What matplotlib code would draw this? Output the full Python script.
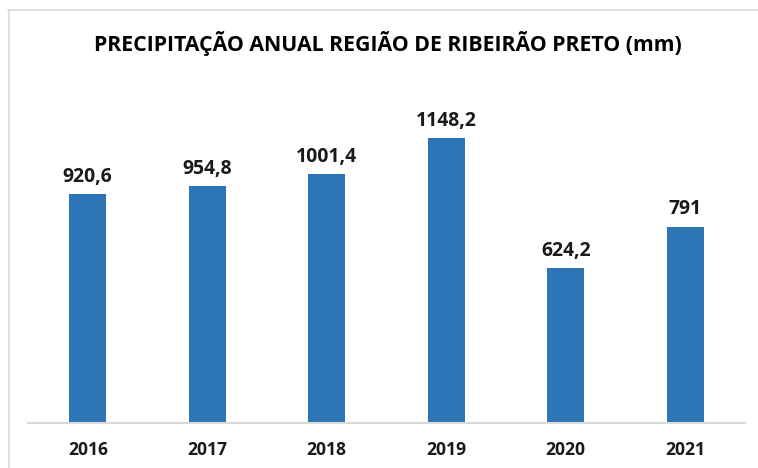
import matplotlib
matplotlib.use("Agg")
import matplotlib.pyplot as plt
from matplotlib.lines import Line2D

anos = ["2016", "2017", "2018", "2019", "2020", "2021"]
precipitacao = [920.6, 954.8, 1001.4, 1148.2, 624.2, 791]
rotulos = ["920,6", "954,8", "1001,4", "1148,2", "624,2", "791"]
titulo = "PRECIPITAÇÃO ANUAL REGIÃO DE RIBEIRÃO PRETO (mm)"

W, H = 758, 468
fig = plt.figure(figsize=(W / 100, H / 100), dpi=100)
fam = "Open Sans"

ax = fig.add_axes([28 / W, (H - 423) / H, (745 - 28) / W, (423 - 75.5) / H])
x = list(range(len(anos)))
ax.bar(x, precipitacao, width=0.31, color="#2E75B6", zorder=2)
ax.set_xlim(-0.5, len(anos) - 0.5)
ax.set_ylim(0, 1400)
ax.set_yticks([])
for s in ["top", "right", "left"]:
    ax.spines[s].set_visible(False)
ax.spines["bottom"].set_color("#D9D9D9")
ax.spines["bottom"].set_linewidth(1.5)
ax.set_xticks(x)
ax.set_xticklabels(anos, fontfamily=fam, fontweight="bold", fontsize=13, color="#1a1a1a")
ax.tick_params(axis="x", length=0, pad=13)

vals = []
for xi, v, r in zip(x, precipitacao, rotulos):
    t = ax.annotate(r, (xi, v), xytext=(0, 9), textcoords="offset points",
                    ha="center", va="baseline", fontfamily=fam, fontweight="bold",
                    fontsize=14, color="#1a1a1a")
    vals.append(t)

tt = fig.text((93 + 683) / 2 / W, 1 - 43 / H, titulo, ha="center", va="center",
              fontfamily=fam, fontweight="bold", fontsize=16, color="#000000")

# border (top and left visible)
fig.add_artist(Line2D([8 / W, 1], [1 - 9.5 / H, 1 - 9.5 / H], color="#D9D9D9", lw=1.2))
fig.add_artist(Line2D([8.5 / W, 8.5 / W], [0, 1 - 9.5 / H], color="#D9D9D9", lw=1.2))

# fit text widths to reference
fig.canvas.draw()
r = fig.canvas.get_renderer()
def fit(t, target):
    w = t.get_window_extent(r).width
    t.set_fontsize(t.get_fontsize() * target / w)
fit(tt, 590)
w0 = vals[0].get_window_extent(r).width
for t in vals:
    t.set_fontsize(t.get_fontsize() * 50 / w0)
lab0 = ax.get_xticklabels()[0]
w1 = lab0.get_window_extent(r).width
fs = lab0.get_fontsize() * 40 / w1
for lab in ax.get_xticklabels():
    lab.set_fontsize(fs)

fig.savefig("out.png", dpi=100)
